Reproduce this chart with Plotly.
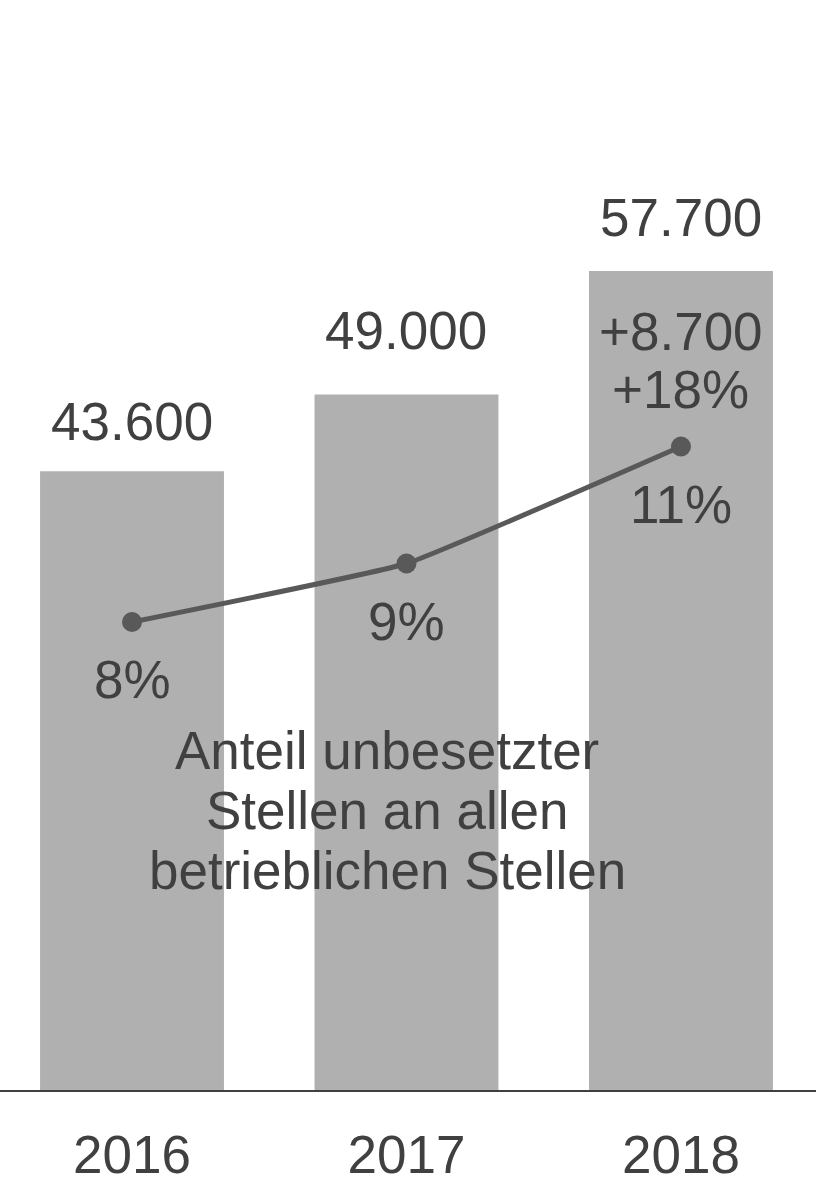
import plotly.graph_objects as go

years = ["2016", "2017", "2018"]
vacancies = [43600, 49000, 57700]
share_pct = [8, 9, 11]
center_text = ["Anteil unbesetzter", "Stellen an allen", "betrieblichen Stellen"]

FONT = "Liberation Sans, Arial, sans-serif"
TXT = "#404040"
FS = 53
# vertical pixel offsets of the value labels above each bar (layout only)
value_label_shift = [18, 33, 22]

def fmt(v):
    return f"{v:,}".replace(",", ".")

fig = go.Figure()
fig.add_trace(go.Bar(x=years, y=vacancies, marker=dict(color="#b0b0b0", line=dict(width=0)),
                     width=0.67, yaxis="y", hoverinfo="skip"))
fig.add_trace(go.Scatter(x=years, y=share_pct, yaxis="y2", mode="lines+markers",
                         line=dict(color="#595959", width=5, shape="spline", smoothing=0.3),
                         marker=dict(color="#595959", size=20), hoverinfo="skip"))

ann = []
for i, v in enumerate(vacancies):
    ann.append(dict(x=i, y=v, xref="x", yref="y", text=fmt(v), showarrow=False,
                    yanchor="bottom", yshift=value_label_shift[i],
                    font=dict(size=FS, color=TXT, family=FONT)))
for i, p in enumerate(share_pct):
    ann.append(dict(x=i, y=p, xref="x", yref="y2", text=f"{p}%", showarrow=False,
                    yanchor="top", yshift=-26, font=dict(size=FS, color=TXT, family=FONT)))

diff = vacancies[-1] - vacancies[-2]
growth = round(diff / vacancies[-2] * 100)
last = len(years) - 1
ann.append(dict(x=last, y=share_pct[-1], xref="x", yref="y2", text=f"+{fmt(diff)}",
                showarrow=False, yanchor="bottom", yshift=84,
                font=dict(size=FS, color=TXT, family=FONT)))
ann.append(dict(x=last, y=share_pct[-1], xref="x", yref="y2", text=f"+{growth}%",
                showarrow=False, yanchor="bottom", yshift=26,
                font=dict(size=FS, color=TXT, family=FONT)))

plot_h = 1090
for i, line in enumerate(center_text):
    base = 770 + 60 * i
    ann.append(dict(x=387 / 816, y=(plot_h - base) / plot_h, xref="paper", yref="paper",
                    text=line, showarrow=False, yanchor="bottom", yshift=-12,
                    font=dict(size=FS, color=TXT, family=FONT)))

fig.update_layout(
    width=816, height=1184,
    margin=dict(l=0, r=0, t=0, b=94, autoexpand=False),
    paper_bgcolor="white", plot_bgcolor="white",
    showlegend=False, bargap=0.33,
    font=dict(family=FONT, color=TXT),
    xaxis=dict(type="category", range=[-0.481, 2.492], showgrid=False, zeroline=False,
               automargin=False,
               showline=True, linecolor="#404040", linewidth=2, ticks="",
               tickfont=dict(size=FS, color=TXT, family=FONT), ticklabelstandoff=17),
    yaxis=dict(range=[0, 76800], visible=False, showgrid=False, zeroline=False, automargin=False),
    yaxis2=dict(range=[0, 1090 / 58.5], overlaying="y", visible=False, showgrid=False,
                zeroline=False, automargin=False),
    annotations=ann,
)

fig.write_html("out.html", config={"displayModeBar": False},
               post_script="document.body.style.margin='0';document.body.style.overflow='hidden';")
